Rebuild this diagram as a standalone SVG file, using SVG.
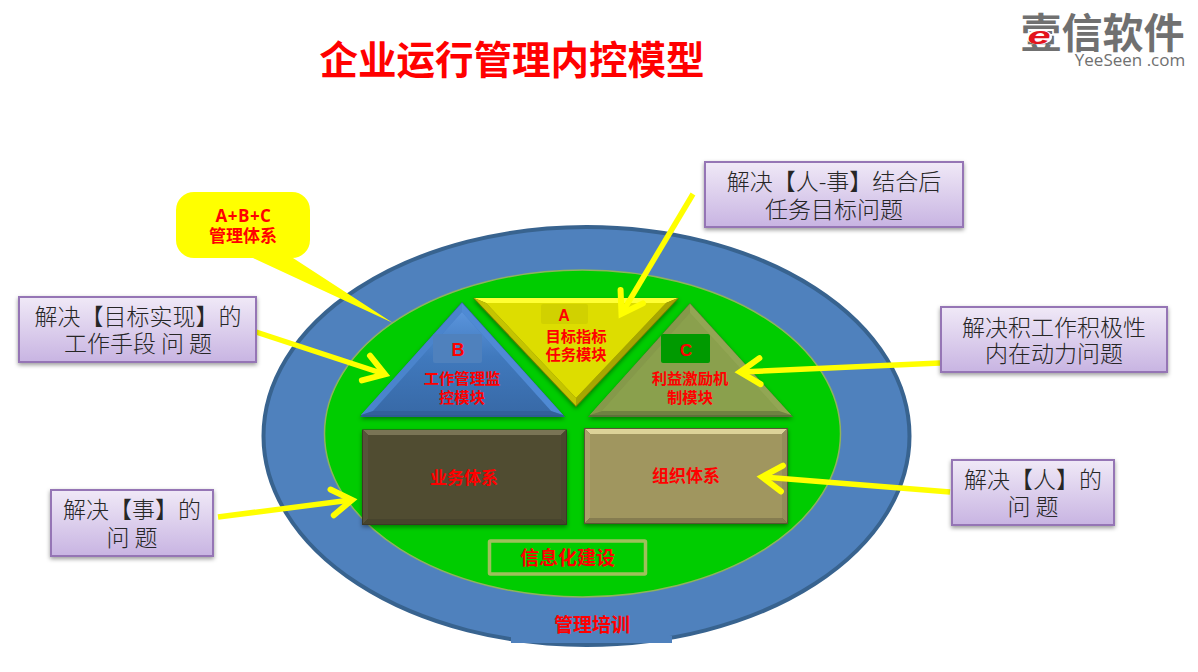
<svg xmlns="http://www.w3.org/2000/svg" width="1198" height="672" viewBox="0 0 1198 672">
<style>
text{font-family:"Noto Sans CJK SC","Liberation Sans",sans-serif;text-anchor:middle}
.r{fill:#ff0000;font-weight:700}
.note rect{fill:url(#noteG);stroke:#9575b5;stroke-width:2;filter:url(#sh)}
.note text{fill:#262626;font-size:23px;font-weight:300}
.arrow{fill:none;stroke:#ffff00;stroke-width:5.5;marker-end:url(#head)}
</style>
<defs>
<linearGradient id="noteG" x1="0" y1="0" x2="0" y2="1"><stop offset="0" stop-color="#f0e9f7"/><stop offset="1" stop-color="#c8b4e2"/></linearGradient>
<linearGradient id="blueG" x1="0" y1="0" x2="0" y2="1"><stop offset="0" stop-color="#5a94dc"/><stop offset="0.45" stop-color="#4079bd"/><stop offset="1" stop-color="#386aa8"/></linearGradient>
<filter id="sh" x="-10%" y="-10%" width="120%" height="125%"><feDropShadow dx="0" dy="2" stdDeviation="2" flood-color="#000" flood-opacity="0.4"/></filter>
<marker id="head" markerUnits="userSpaceOnUse" markerWidth="44" markerHeight="44" refX="32" refY="22" orient="auto"><path d="M13,9 L33,22 L13,35" fill="none" stroke="#ffff00" stroke-width="6" stroke-linecap="round"/></marker>
</defs>
<rect width="1198" height="672" fill="#ffffff"/>
<text class="r" x="512" y="74" font-size="38.500">企业运行管理内控模型</text>

<g id="logo">
<text x="1102.500" y="47.600" font-size="41" font-weight="700" fill="#707070">壹信软件</text>
<ellipse cx="1039" cy="37" rx="13" ry="7.500" fill="#ffffff"/>
<text transform="translate(1039,44) scale(1.6,0.95)" x="0" y="0" font-size="26" font-weight="700" font-style="italic" fill="#e3141c" style="font-family:'Liberation Sans',sans-serif">e</text>
<text x="1130" y="66" font-size="17" fill="#707070" style="font-family:'Open Sans','Liberation Sans',sans-serif">YeeSeen .com</text>
</g>

<g id="outer-ellipse">
<ellipse cx="586.500" cy="436" rx="323" ry="209" fill="#4f81bd" stroke="#38638f" stroke-width="4"/>
<rect x="511" y="636" width="161" height="7" fill="#4f81bd"/>
<text class="r" x="592" y="632" font-size="19">管理培训</text>
</g>
<g id="inner-ellipse">
<ellipse cx="582.500" cy="433.500" rx="258" ry="163.500" fill="#00cc00" stroke="#8fb35c" stroke-width="1.500"/>
</g>

<g id="node-b">
<polygon points="462,302 565,417 360,417" fill="#2f5b92" filter="url(#sh)"/>
<polygon points="462,303 563,415 361,415" fill="#4079c0"/>
<polygon points="462,303 462,312 373,411 361,415" fill="#4a84cc"/>
<polygon points="462,303 462,312 551,411 563,415" fill="#4f8ad4"/>
<polygon points="361,415 373,411 551,411 563,415" fill="#33609a"/>
<polygon points="462,312 551,411 373,411" fill="url(#blueG)"/>
<rect x="433" y="334" width="49" height="29" rx="2" fill="#4f81bd"/>
<text class="r" x="458" y="356" font-size="18" style="font-family:'Liberation Sans',sans-serif">B</text>
<text class="r" x="462" y="384" font-size="15.300">工作管理监</text>
<text class="r" x="462" y="403" font-size="15.300">控模块</text>
</g>

<g id="node-a">
<polygon points="473,298 679,298 576,407" fill="#6e6e00" filter="url(#sh)"/>
<polygon points="474,298 678,298 666,303 486,303" fill="#ffff33"/>
<polygon points="474,298 486,303 576,398 576,406" fill="#c4c400"/>
<polygon points="678,298 666,303 576,398 576,406" fill="#a6a600"/>
<polygon points="486,303 666,303 576,398" fill="#dddd00"/>
<rect x="541" y="304" width="47" height="20" rx="2" fill="#d1d100"/>
<text class="r" x="564" y="321" font-size="16" style="font-family:'Liberation Sans',sans-serif">A</text>
<text class="r" x="576" y="342" font-size="15.300">目标指标</text>
<text class="r" x="576" y="360" font-size="15.300">任务模块</text>
</g>

<g id="node-c">
<polygon points="690,303 793,417 588,417" fill="#5d6f3a" filter="url(#sh)"/>
<polygon points="690,304 791,415 590,415" fill="#8aa04d"/>
<polygon points="690,304 690,313 602,411 590,415" fill="#85994a"/>
<polygon points="690,304 690,313 779,411 791,415" fill="#92a654"/>
<polygon points="590,415 602,411 779,411 791,415" fill="#6f8242"/>
<polygon points="690,313 779,411 602,411" fill="#8aa04d"/>
<rect x="661" y="334" width="49" height="29" rx="2" fill="#009a00"/>
<text class="r" x="686" y="356" font-size="17" style="font-family:'Liberation Sans',sans-serif">C</text>
<text class="r" x="690" y="384" font-size="15.300">利益激励机</text>
<text class="r" x="690" y="403" font-size="15.300">制模块</text>
</g>

<g id="node-business">
<rect x="362" y="429.500" width="205" height="95.500" fill="#3a3726" filter="url(#sh)"/>
<polygon points="363,430 566,430 561,435 368,435" fill="#7a7455"/>
<polygon points="363,430 368,435 368,519 363,524" fill="#57533a"/>
<polygon points="566,430 561,435 561,519 566,524" fill="#4b482f"/>
<polygon points="363,524 368,519 561,519 566,524" fill="#47442d"/>
<rect x="368" y="435" width="193" height="84" fill="#504c31"/>
<text class="r" x="464" y="484" font-size="17">业务体系</text>
</g>

<g id="node-org">
<rect x="584" y="428" width="204" height="96" fill="#5a5535" filter="url(#sh)"/>
<polygon points="585,429 787,429 782,434 590,434" fill="#dcd398"/>
<polygon points="585,429 590,434 590,518 585,523" fill="#aba16a"/>
<polygon points="787,429 782,434 782,518 787,523" fill="#958c5a"/>
<polygon points="585,523 590,518 782,518 787,523" fill="#857c50"/>
<rect x="590" y="434" width="192" height="84" fill="#a0965f"/>
<text class="r" x="686" y="482" font-size="17">组织体系</text>
</g>

<g id="node-info">
<rect x="489.500" y="541" width="156" height="33" rx="1" fill="none" stroke="#9ec05c" stroke-width="3.500"/>
<text class="r" x="567.500" y="565" font-size="19">信息化建设</text>
</g>

<g id="node-callout">
<path d="M194,192 H292 A18,18 0 0 1 310,210 V240 A18,18 0 0 1 292,258 H293 L393,323 L253,258 H194 A18,18 0 0 1 176,240 V210 A18,18 0 0 1 194,192 Z" fill="#ffff00"/>
<text class="r" x="243.500" y="222" font-size="17" style="font-family:'Open Sans','Liberation Sans',sans-serif;letter-spacing:0.500px">A+B+C</text>
<text class="r" x="243" y="242" font-size="17">管理体系</text>
</g>

<g id="connectors">
<line class="arrow" x1="693" y1="194" x2="622" y2="313"/>
<line class="arrow" x1="256" y1="332" x2="384" y2="374"/>
<line class="arrow" x1="218" y1="517" x2="351" y2="500"/>
<line class="arrow" x1="950" y1="492" x2="763" y2="477"/>
<line class="arrow" x1="940" y1="363" x2="741" y2="372"/>
</g>

<g id="note-top" class="note">
<rect x="705" y="162" width="258" height="65"/>
<text x="834" y="190">解决【人-事】结合后</text>
<text x="834" y="218">任务目标问题</text>
</g>
<g id="note-left" class="note">
<rect x="19" y="297" width="237" height="65"/>
<text x="138" y="325">解决【目标实现】的</text>
<text x="138" y="352">工作手段 问 题</text>
</g>
<g id="note-right" class="note">
<rect x="941" y="307" width="226" height="65"/>
<text x="1054" y="336">解决积工作积极性</text>
<text x="1054" y="362">内在动力问题</text>
</g>
<g id="note-bottom-left" class="note">
<rect x="51" y="490" width="162" height="66"/>
<text x="132" y="518">解决【事】的</text>
<text x="132" y="546">问 题</text>
</g>
<g id="note-bottom-right" class="note">
<rect x="952" y="460" width="162" height="65"/>
<text x="1033" y="488">解决【人】的</text>
<text x="1033" y="515">问 题</text>
</g>
</svg>
